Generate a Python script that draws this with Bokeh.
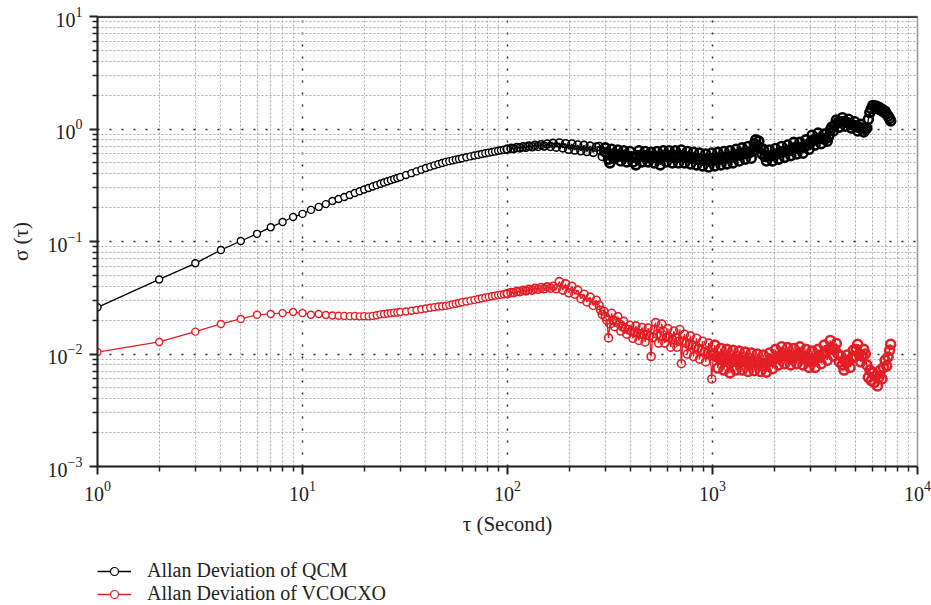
from bokeh.plotting import figure
from bokeh.layouts import column
from bokeh.models import Range1d, FixedTicker, Span, Legend, LegendItem, ColumnDataSource, CDSView, IndexFilter
from bokeh.embed import file_html
from bokeh.resources import INLINE

# ---------------- data ----------------
tau = [
    1, 2, 3, 4, 5, 6, 7, 8, 9, 10,
    11, 12, 13, 14, 15, 16, 17, 18, 19, 20,
    21, 22, 23, 24, 25, 26, 27, 28, 29, 30,
    32, 34, 36, 38, 40, 42, 44, 46, 48, 50,
    52, 54, 56, 58, 60,
    63, 66, 69, 72, 75, 78, 81, 84, 87, 90, 93, 96, 99,
    100, 104, 107, 111, 115, 119, 123, 127, 132, 136,
    141, 146, 151, 156, 162, 167, 173, 179, 186, 192,
    199, 206, 213, 220, 228, 236, 244, 253, 262, 271,
    280, 285, 290, 295, 300, 305, 311, 316, 322, 327,
    333, 339, 345, 351, 357, 363, 369, 375, 382, 388,
    395, 402, 409, 416, 423, 430, 438, 445, 453, 461,
    469, 477, 485, 493, 502, 510, 519, 528, 537, 546,
    556, 565, 575, 585, 595, 605, 615, 626, 637, 648,
    659, 670, 682, 693, 705, 717, 730, 742, 755, 768,
    781, 795, 808, 822, 836, 851, 865, 880, 895, 911,
    926, 942, 958, 975, 992, 1009, 1026, 1044, 1062, 1080,
    1099, 1117, 1137, 1156, 1176, 1196, 1217, 1238, 1259, 1281,
    1303, 1325, 1348, 1371, 1395, 1419, 1443, 1468, 1493, 1519,
    1545, 1572, 1599, 1626, 1654, 1683, 1712, 1741, 1771, 1802,
    1833, 1864, 1896, 1929, 1962, 1996, 2030, 2065, 2101, 2137,
    2174, 2211, 2249, 2288, 2327, 2367, 2408, 2450, 2492, 2535,
    2578, 2623, 2668, 2714, 2761, 2808, 2857, 2906, 2956, 3007,
    3059, 3111, 3165, 3219, 3275, 3331, 3389, 3447, 3507, 3567,
    3629, 3691, 3755, 3819, 3885, 3952, 4020, 4090, 4160, 4232,
    4305, 4379, 4455, 4532, 4610, 4689, 4770, 4852, 4936, 5021,
    5108, 5196, 5285, 5376, 5469, 5563, 5659, 5757, 5856, 5957,
    6060, 6164, 6270, 6378, 6488, 6600, 6714, 6830, 6947, 7067,
    7188, 7312, 7400,
]

sigma_qcm = [
    0.026, 0.046, 0.064, 0.084, 0.101, 0.117, 0.134, 0.149, 0.165, 0.176,
    0.191, 0.203, 0.215, 0.229, 0.239, 0.249, 0.259, 0.270, 0.280, 0.290,
    0.299, 0.308, 0.317, 0.326, 0.335, 0.343, 0.351, 0.359, 0.367, 0.374,
    0.390, 0.405, 0.420, 0.435, 0.450, 0.463, 0.475, 0.487, 0.498, 0.510,
    0.518, 0.526, 0.534, 0.542, 0.550,
    0.561, 0.571, 0.581, 0.591, 0.600, 0.608, 0.616, 0.624, 0.632, 0.640, 0.647, 0.654, 0.661,
    0.665, 0.672, 0.668, 0.685, 0.680, 0.695, 0.688, 0.705, 0.695, 0.715,
    0.700, 0.725, 0.705, 0.735, 0.700, 0.745, 0.690, 0.750, 0.680, 0.740,
    0.660, 0.735, 0.650, 0.720, 0.640, 0.715, 0.630, 0.705, 0.620, 0.690,
    0.70, 0.64, 0.57, 0.63, 0.68, 0.61, 0.54, 0.50, 0.66, 0.60,
    0.55, 0.59, 0.65, 0.58, 0.52, 0.57, 0.64, 0.58, 0.51, 0.57,
    0.63, 0.57, 0.51, 0.56, 0.48, 0.58, 0.64, 0.57, 0.51, 0.57,
    0.63, 0.58, 0.51, 0.56, 0.62, 0.57, 0.50, 0.56, 0.63, 0.57,
    0.48, 0.57, 0.64, 0.58, 0.51, 0.57, 0.64, 0.58, 0.50, 0.56,
    0.64, 0.58, 0.50, 0.57, 0.65, 0.58, 0.50, 0.56, 0.63, 0.56,
    0.49, 0.55, 0.62, 0.55, 0.48, 0.54, 0.61, 0.54, 0.47, 0.53,
    0.60, 0.54, 0.46, 0.53, 0.61, 0.54, 0.47, 0.54, 0.62, 0.55,
    0.48, 0.55, 0.63, 0.56, 0.49, 0.56, 0.64, 0.57, 0.50, 0.58,
    0.66, 0.59, 0.52, 0.60, 0.68, 0.61, 0.54, 0.61, 0.70, 0.62,
    0.55, 0.64, 0.74, 0.80, 0.70, 0.78, 0.68, 0.60, 0.66, 0.57,
    0.52, 0.58, 0.65, 0.58, 0.52, 0.59, 0.67, 0.60, 0.54, 0.62,
    0.70, 0.63, 0.56, 0.64, 0.72, 0.65, 0.58, 0.66, 0.76, 0.68,
    0.60, 0.67, 0.76, 0.68, 0.61, 0.70, 0.80, 0.72, 0.66, 0.76,
    0.88, 0.80, 0.72, 0.82, 0.92, 0.83, 0.74, 0.82, 0.90, 0.82,
    0.78, 0.86, 0.98, 1.04, 0.96, 1.08, 1.20, 1.14, 1.04, 1.16,
    1.26, 1.16, 1.06, 1.14, 1.22, 1.12, 1.02, 1.08, 1.16, 1.06,
    0.96, 1.03, 1.10, 1.02, 0.94, 0.99, 1.02, 1.22, 1.40, 1.52,
    1.62, 1.56, 1.60, 1.52, 1.56, 1.48, 1.50, 1.42, 1.44, 1.36,
    1.30, 1.24, 1.18,
]

sigma_vcocxo = [
    0.0104, 0.0128, 0.0158, 0.0185, 0.0205, 0.0223, 0.0227, 0.0231, 0.0236, 0.0231,
    0.0223, 0.0227, 0.0222, 0.0220, 0.0219, 0.0218, 0.0217, 0.0218, 0.0216, 0.0217,
    0.0216, 0.0218, 0.0221, 0.0225, 0.0227, 0.0229, 0.0231, 0.0233, 0.0234, 0.0236,
    0.0239, 0.0242, 0.0246, 0.0250, 0.0254, 0.0258, 0.0261, 0.0264, 0.0266, 0.0268,
    0.0272, 0.0276, 0.0280, 0.0284, 0.0288,
    0.0293, 0.0298, 0.0303, 0.0308, 0.0313, 0.0318, 0.0322, 0.0326, 0.0330, 0.0334, 0.0337, 0.0340, 0.0343,
    0.0345, 0.0352, 0.0350, 0.0360, 0.0358, 0.0368, 0.0364, 0.0375, 0.0370, 0.0383,
    0.0376, 0.0390, 0.0380, 0.0395, 0.0385, 0.0400, 0.0380, 0.0440, 0.0370, 0.0420,
    0.0350, 0.0400, 0.0340, 0.0370, 0.0310, 0.0340, 0.0290, 0.0320, 0.0270, 0.0300,
    0.0270, 0.0245, 0.0225, 0.0240, 0.0215, 0.0200, 0.0139, 0.0185, 0.0230, 0.0200,
    0.0175, 0.0195, 0.0215, 0.0185, 0.0160, 0.0175, 0.0195, 0.0170, 0.0150, 0.0165,
    0.0180, 0.0160, 0.0138, 0.0155, 0.0178, 0.0155, 0.0132, 0.0150, 0.0172, 0.0150,
    0.0128, 0.0148, 0.0170, 0.0145, 0.0095, 0.0140, 0.0165, 0.0190, 0.0150, 0.0125,
    0.0145, 0.0185, 0.0160, 0.0125, 0.0140, 0.0168, 0.0140, 0.0115, 0.0135, 0.0160,
    0.0140, 0.0115, 0.0130, 0.0165, 0.0082, 0.0130, 0.0150, 0.0125, 0.0100, 0.0120,
    0.0145, 0.0120, 0.0095, 0.0115, 0.0138, 0.0112, 0.0090, 0.0108, 0.0130, 0.0105,
    0.0085, 0.0102, 0.0125, 0.0100, 0.0060, 0.0098, 0.0120, 0.0095, 0.0075, 0.0092,
    0.0112, 0.0090, 0.0072, 0.0090, 0.0110, 0.0088, 0.0068, 0.0086, 0.0108, 0.0088,
    0.0072, 0.0088, 0.0106, 0.0088, 0.0072, 0.0086, 0.0104, 0.0086, 0.0070, 0.0085,
    0.0102, 0.0086, 0.0071, 0.0084, 0.0100, 0.0084, 0.0070, 0.0082, 0.0098, 0.0082,
    0.0069, 0.0084, 0.0102, 0.0088, 0.0074, 0.0090, 0.0110, 0.0094, 0.0080, 0.0096,
    0.0116, 0.0098, 0.0082, 0.0096, 0.0114, 0.0096, 0.0080, 0.0095, 0.0112, 0.0096,
    0.0082, 0.0098, 0.0116, 0.0098, 0.0080, 0.0094, 0.0110, 0.0090, 0.0076, 0.0090,
    0.0106, 0.0090, 0.0076, 0.0092, 0.0110, 0.0096, 0.0082, 0.0100, 0.0120, 0.0104,
    0.0088, 0.0110, 0.0132, 0.0112, 0.0096, 0.0110, 0.0124, 0.0100, 0.0085, 0.0096,
    0.0080, 0.0072, 0.0085, 0.0098, 0.0086, 0.0076, 0.0092, 0.0108, 0.0094, 0.0110,
    0.0122, 0.0100, 0.0085, 0.0096, 0.0110, 0.0100, 0.0080, 0.0062, 0.0072, 0.0058,
    0.0068, 0.0056, 0.0064, 0.0052, 0.0062, 0.0072, 0.0060, 0.0076, 0.0088, 0.0078,
    0.0094, 0.0108, 0.0122,
]

series_labels = ["Allan Deviation of QCM", "Allan Deviation of VCOCXO"]
x_major = [1, 10, 100, 1000, 10000]
y_major = [0.001, 0.01, 0.1, 1, 10]
x_title = "τ (Second)"
y_title = "σ (τ)"

assert len(tau) == len(sigma_qcm) == len(sigma_vcocxo), (len(tau), len(sigma_qcm), len(sigma_vcocxo))

# ---------------- styling ----------------
FONT = "Liberation Serif"
RED = "#e41e26"
TXT = "#222222"

p = figure(
    width=931, height=545,
    x_axis_type="log", y_axis_type="log",
    x_range=Range1d(1, 10000), y_range=Range1d(0.001, 10),
    output_backend="svg", toolbar_location=None,
    min_border_left=97, min_border_right=14, min_border_top=16, min_border_bottom=79,
    background_fill_color="white", border_fill_color="white",
)
p.outline_line_color = "#999999"
p.outline_line_width = 1.5

x_minor = [m * d for d in x_major[:-1] for m in range(2, 10)]
y_minor = [m * d for d in y_major[:-1] for m in range(2, 10)]
p.xaxis.ticker = FixedTicker(ticks=x_major, minor_ticks=x_minor)
p.yaxis.ticker = FixedTicker(ticks=y_major, minor_ticks=y_minor)

for ax in (p.xaxis[0], p.yaxis[0]):
    ax.axis_line_color = TXT
    ax.axis_line_width = 2
    ax.major_tick_line_color = TXT
    ax.major_tick_line_width = 2
    ax.minor_tick_line_color = TXT
    ax.minor_tick_line_width = 1.5
    ax.major_tick_in = 0
    ax.major_tick_out = 8
    ax.minor_tick_in = 0
    ax.minor_tick_out = 5
    ax.major_label_text_font = FONT
    ax.major_label_text_font_size = "20px"
    ax.major_label_text_color = TXT
    ax.axis_label_text_font = FONT
    ax.axis_label_text_font_size = "21px"
    ax.axis_label_text_font_style = "normal"
    ax.axis_label_text_color = TXT

p.xaxis.axis_label = x_title
p.yaxis.axis_label = y_title
p.xaxis.major_label_standoff = 6
p.yaxis.major_label_standoff = 7
p.xaxis.axis_label_standoff = 8
p.yaxis.axis_label_standoff = 12

p.grid.grid_line_color = "black"
p.grid.grid_line_dash = "2 10"
p.grid.grid_line_width = 1.5
p.grid.grid_line_alpha = 0.85
p.grid.minor_grid_line_color = "#aaaaaa"
p.grid.minor_grid_line_dash = "2 2"
p.grid.minor_grid_line_width = 1

p.add_layout(Span(location=10, dimension="width", line_color="black", line_width=2.5))

src = ColumnDataSource(dict(tau=tau, q=sigma_qcm, v=sigma_vcocxo))
n = len(tau)
i100 = sum(1 for t in tau if t < 100)
i300 = sum(1 for t in tau if t < 300)
i1000 = sum(1 for t in tau if t < 1000)

def view(a, b):
    return CDSView(filter=IndexFilter(list(range(a, b))))

for col, color, heavy_from in (("q", "black", i300), ("v", RED, i1000)):
    p.line("tau", col, source=src, line_color=color, line_width=1.3)
    p.scatter("tau", col, source=src, view=view(0, i100), marker="circle", size=7,
              fill_color="white", line_color=color, line_width=1.4)
    p.scatter("tau", col, source=src, view=view(i100, heavy_from), marker="circle", size=8,
              fill_alpha=0, line_color=color, line_width=1.6)
    p.scatter("tau", col, source=src, view=view(heavy_from, n), marker="circle", size=9,
              fill_alpha=0, line_color=color, line_width=2.6)

# ---------------- legend (separate strip below the plot) ----------------
lf = figure(
    width=931, height=60, x_range=Range1d(0, 1), y_range=Range1d(0, 1),
    output_backend="svg", toolbar_location=None, x_axis_type=None, y_axis_type=None,
    min_border=0, outline_line_color=None,
    background_fill_color="white", border_fill_color="white",
)
lf.grid.visible = False
off = [-5]  # legend-only renderers, placed outside the visible range
leg_specs = [("black", series_labels[0], 23), (RED, series_labels[1], 0)]
for color, label, ybot in leg_specs:
    lr = lf.line(off, off, line_color=color, line_width=1.3)
    sr = lf.scatter(off, off, marker="circle", size=5, fill_color="white", line_color=color, line_width=1.2)
    lg = Legend(
        items=[LegendItem(label=label, renderers=[lr, sr])],
        location=(0, ybot), orientation="vertical",
        border_line_alpha=0, background_fill_alpha=0,
        padding=0, margin=0, spacing=0,
        glyph_width=34, glyph_height=20, label_height=20, label_standoff=16,
        label_text_font=FONT, label_text_font_size="20px", label_text_color=TXT,
    )
    lf.add_layout(lg, "center")

layout = column(p, lf, spacing=0)
open("out.html", "w").write(file_html(layout, INLINE))
